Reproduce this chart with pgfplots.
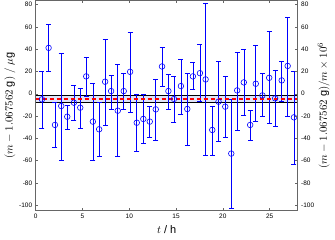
\documentclass[border=0pt]{standalone}
\usepackage{pgfplots}
\pgfplotsset{compat=1.18}
\usepackage{pgfplotstable}
\usepackage{fontspec}
\setmainfont{Liberation Sans}
\definecolor{axgray}{rgb}{0.4,0.4,0.4}
\definecolor{bandfill}{rgb}{0.88,0.90,0.98}
\definecolor{dashred}{rgb}{1,0,0}

\pgfplotstableread{
x y ep em
0.67 -5.0 25.3 26.0
1.38 41.2 21.2 20.9
2.06 -28.0 20.0 20.3
2.73 -11.0 47.7 48.4
3.37 -20.6 10.2 11.3
4.08 -8.0 15.2 15.5
4.76 -12.5 17.3 18.5
5.40 15.6 17.0 17.6
6.11 -25.0 34.3 35.0
6.78 -31.9 23.9 24.5
7.42 10.8 38.2 38.8
8.06 2.4 14.3 16.1
8.77 -15.2 41.5 41.2
9.41 2.4 15.8 16.1
10.09 19.7 35.8 36.4
10.80 -26.0 25.3 25.3
11.50 -22.6 22.0 21.8
12.19 -25.0 14.0 14.4
12.83 -14.0 27.2 27.5
13.50 24.5 17.5 18.2
14.18 2.4 15.2 16.1
14.78 -4.7 20.8 21.3
15.52 6.9 24.1 25.4
16.20 -13.7 32.2 32.8
16.80 15.6 12.2 11.7
17.55 18.5 26.0 25.0
18.16 12.9 68.5 67.8
18.87 -32.5 20.9 22.4
19.54 -7.1 35.8 35.9
20.26 -11.6 26.9 27.8
20.90 -53.7 48.7 48.9
21.53 3.0 34.6 35.5
22.24 10.2 29.8 29.9
22.92 -28.0 13.4 13.5
23.52 9.0 34.6 34.0
24.23 -1.5 20.3 19.1
24.95 14.3 42.1 40.8
25.59 -4.1 25.3 24.8
26.29 12.0 17.5 18.5
26.93 25.0 43.9 45.0
27.60 -21.2 41.8 41.8
}\datatable

\begin{document}
\begin{tikzpicture}
\pgfplotsset{
  common/.style={
    scale only axis,
    width=262bp, height=210.5bp,
    at={(0,0)}, anchor=south west,
    xmin=0, xmax=28, ymin=-105, ymax=84,
    xtick={0,5,10,15,20,25},
    ytick={-100,-80,-60,-40,-20,0,20,40,60,80},
    tick label style={font=\fontsize{6.5}{7}\selectfont},
    /pgf/number format/assume math mode=true,
    axis line style={axgray, line width=0.5pt},
    major tick length=2.5bp,
    every tick/.style={axgray, line width=0.5pt},
    label style={font=\fontsize{11}{12}\selectfont},
  }
}
\begin{axis}[common,
  tick align=inside,
  xtick pos=both, ytick pos=left,
  xlabel={$t$ / h},
  ylabel={$(m-1.067562\ \mathrm{g})\ /\ \mu\mathrm{g}$},
  xlabel style={at={(axis description cs:0.5,-0.092)}, anchor=center},
  ylabel style={at={(axis description cs:-0.098,0.5)}, anchor=center},
  clip=true,
]
\addplot[fill=bandfill, draw=none, forget plot] coordinates {(0,-1.5) (28,-1.5) (28,-8) (0,-8)} -- cycle;
\addplot[draw=black, line width=0.45pt, forget plot] coordinates {(0,-1.5) (28,-1.5)};
\addplot[draw=black, line width=0.45pt, forget plot] coordinates {(0,-8) (28,-8)};
\addplot[draw=blue, only marks, mark=o, mark size=2.8bp, line width=0.6pt,
  error bars/.cd, y dir=both, y explicit,
  error bar style={draw=blue, line width=0.6pt},
  error mark options={rotate=90, mark size=2.5bp, draw=blue, line width=0.6pt}]
  table[x=x, y=y, y error plus=ep, y error minus=em] {\datatable};
\addplot[draw=dashred, line width=1.3pt, dash pattern=on 4bp off 3bp, forget plot] coordinates {(0,-4.8) (28,-4.8)};
\end{axis}
\begin{axis}[common,
  tick align=inside,
  hide x axis,
  axis y line*=right,
  ylabel={$(m-1.067562\ \mathrm{g})/m\times10^{6}$},
  ylabel style={at={(axis description cs:1.099,0.5)}, anchor=center},
]
\end{axis}
\pgfresetboundingbox
\useasboundingbox (-35.7bp,-29.3bp) rectangle (299.3bp,210.7bp);
\end{tikzpicture}
\end{document}
